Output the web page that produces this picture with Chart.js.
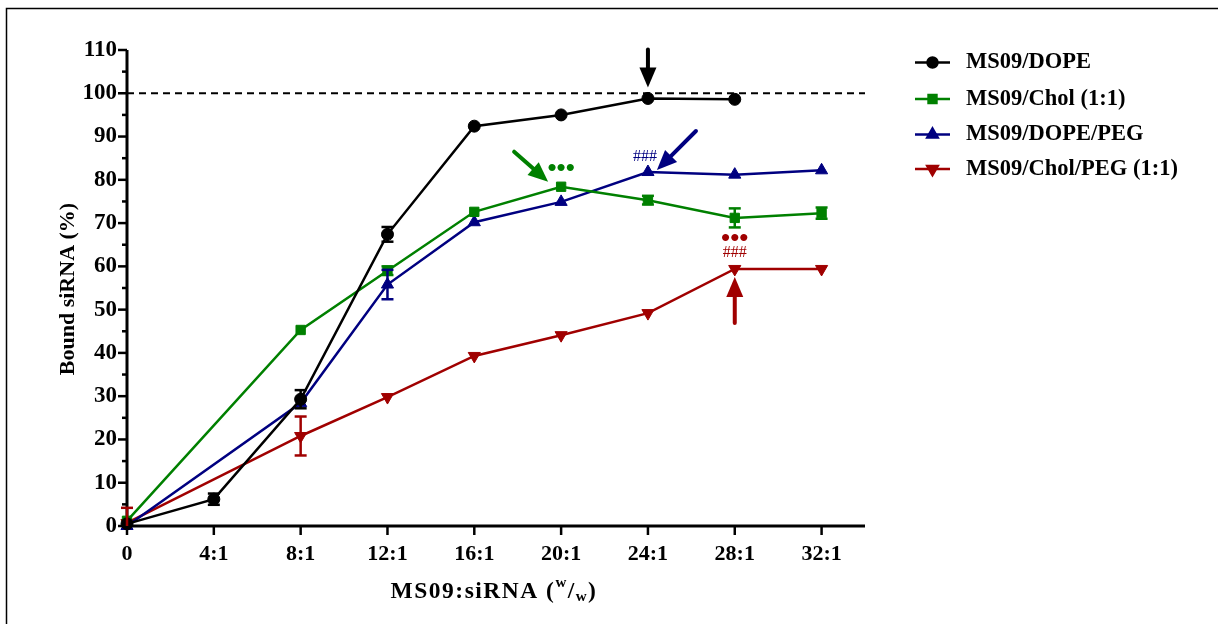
<!DOCTYPE html>
<html><head><meta charset="utf-8">
<script src="https://cdn.jsdelivr.net/npm/chart.js@4/dist/chart.umd.min.js"></script>
<style>html,body{margin:0;padding:0;background:#fff}canvas{display:block}</style>
</head><body><canvas id="c" width="1218" height="624"></canvas>
<script>
// ---- data ----
const ratios = [0, 4, 8, 12, 16, 20, 24, 28, 32];
const ratioLabels = ['0', '4:1', '8:1', '12:1', '16:1', '20:1', '24:1', '28:1', '32:1'];
const yTicks = [0, 10, 20, 30, 40, 50, 60, 70, 80, 90, 100, 110];
const seriesNames = ['MS09/DOPE', 'MS09/Chol (1:1)', 'MS09/DOPE/PEG', 'MS09/Chol/PEG (1:1)'];
const dope       = [0.5, 6.2, 29.3, 67.4, 92.4, 95.0, 98.8, 98.6, null];
const dopeErr    = [0, 1.3, 2.1, 1.7, 0, 0, 0, 0, null];
const chol       = [1.2, null, 45.3, 59.0, 72.6, 78.4, 75.3, 71.2, 72.3];
const cholErr    = [0, null, 0, 1.0, 0, 0, 1.0, 2.2, 1.3];
const dopePeg    = [0, null, 28.4, 55.8, 70.2, 74.9, 81.8, 81.2, 82.2];
const dopePegErr = [0, null, 0, 3.4, 0, 0, 0, 0, 0];
const cholPeg    = [0.7, null, 20.8, 29.8, 39.3, 44.1, 49.2, 59.4, 59.4];
const cholPegErr = [3.5, null, 4.5, 0, 0, 0, 0, 0, 0];
const referenceLevel = 100;

const colors = ['#000000', '#008000', '#000080', '#a00000'];
const styles = ['circle', 'rect', 'triangle', 'triangle'];
const rotations = [0, 0, 0, 180];
const radii = [6, 6.6, 7, 7];
const values = [dope, chol, dopePeg, cholPeg];
const errors = [dopeErr, cholErr, dopePegErr, cholPegErr];

const FONT = 'Liberation Serif, Times New Roman, serif';

function pts(arr) {
  const out = [];
  arr.forEach((v, i) => { if (v !== null) out.push({x: ratios[i], y: v}); });
  return out;
}

const datasets = values.map((arr, s) => ({
  label: seriesNames[s],
  data: pts(arr),
  borderColor: colors[s],
  backgroundColor: colors[s],
  pointBackgroundColor: colors[s],
  pointBorderColor: colors[s],
  pointStyle: styles[s],
  rotation: rotations[s],
  pointRadius: radii[s],
  pointHoverRadius: radii[s],
  pointBorderWidth: 1,
  borderWidth: 2.5,
  tension: 0,
  spanGaps: true,
  clip: false
}));

function px(chart, s, i) {
  return {x: chart.scales.x.getPixelForValue(ratios[i]), y: chart.scales.y.getPixelForValue(values[s][i])};
}

function arrow(ctx, x1, y1, x2, y2, color) {
  const ang = Math.atan2(y2 - y1, x2 - x1);
  const hl = 20, hw = 8.5;
  const bx = x2 - hl * Math.cos(ang), by = y2 - hl * Math.sin(ang);
  ctx.save();
  ctx.strokeStyle = color; ctx.fillStyle = color;
  ctx.lineWidth = 4; ctx.lineCap = 'round';
  ctx.beginPath(); ctx.moveTo(x1, y1); ctx.lineTo(bx + 2 * Math.cos(ang), by + 2 * Math.sin(ang)); ctx.stroke();
  ctx.beginPath();
  ctx.moveTo(x2, y2);
  ctx.lineTo(bx + hw * Math.sin(ang), by - hw * Math.cos(ang));
  ctx.lineTo(bx - hw * Math.sin(ang), by + hw * Math.cos(ang));
  ctx.closePath(); ctx.fill();
  ctx.restore();
}

const deco = {
  id: 'deco',
  beforeDraw(chart) {
    const ctx = chart.ctx;
    ctx.save();
    ctx.fillStyle = '#fff'; ctx.fillRect(0, 0, chart.width, chart.height);
    ctx.strokeStyle = '#000'; ctx.lineWidth = 1.5;
    ctx.beginPath(); ctx.moveTo(6.5, 624); ctx.lineTo(6.5, 8.5); ctx.lineTo(1218, 8.5); ctx.stroke();
    ctx.restore();
  },
  beforeDatasetsDraw(chart) {
    const ctx = chart.ctx, xs = chart.scales.x, ys = chart.scales.y, a = chart.chartArea;
    ctx.save();
    ctx.strokeStyle = '#000';
    // reference dashed line
    ctx.lineWidth = 2; ctx.setLineDash([7, 5]);
    const ry = ys.getPixelForValue(referenceLevel);
    ctx.beginPath(); ctx.moveTo(a.left, ry); ctx.lineTo(a.right, ry); ctx.stroke();
    ctx.setLineDash([]);
    // axes
    ctx.lineWidth = 3;
    ctx.beginPath(); ctx.moveTo(a.left, a.top); ctx.lineTo(a.left, a.bottom + 4); ctx.stroke();
    ctx.beginPath(); ctx.moveTo(a.left - 4, a.bottom); ctx.lineTo(a.right, a.bottom); ctx.stroke();
    // y ticks major/minor
    ctx.lineWidth = 2.5;
    for (let v = 0; v <= 110; v += 5) {
      const y = ys.getPixelForValue(v);
      const len = (v % 10 === 0) ? 9 : 5;
      ctx.beginPath(); ctx.moveTo(a.left, y); ctx.lineTo(a.left - len, y); ctx.stroke();
    }
    ratios.forEach(r => {
      const x = xs.getPixelForValue(r);
      ctx.beginPath(); ctx.moveTo(x, a.bottom); ctx.lineTo(x, a.bottom + 9); ctx.stroke();
    });
    ctx.restore();
  },
  afterDatasetsDraw(chart) {
    const ctx = chart.ctx, xs = chart.scales.x, ys = chart.scales.y;
    ctx.save();
    // error bars
    errors.forEach((errs, s) => {
      ctx.strokeStyle = colors[s]; ctx.lineWidth = 2.5;
      errs.forEach((e, i) => {
        if (!e || values[s][i] === null) return;
        const x = xs.getPixelForValue(ratios[i]);
        const yt = ys.getPixelForValue(values[s][i] + e);
        const yb = ys.getPixelForValue(Math.max(0, values[s][i] - e));
        ctx.beginPath(); ctx.moveTo(x, yt); ctx.lineTo(x, yb); ctx.stroke();
        ctx.beginPath(); ctx.moveTo(x - 6, yt); ctx.lineTo(x + 6, yt); ctx.stroke();
        if (values[s][i] - e > 0) { ctx.beginPath(); ctx.moveTo(x - 6, yb); ctx.lineTo(x + 6, yb); ctx.stroke(); }
      });
    });
    // arrows
    let p = px(chart, 0, 6); arrow(ctx, p.x, p.y - 49, p.x, p.y - 11, colors[0]);
    p = px(chart, 1, 5); arrow(ctx, p.x - 47, p.y - 35, p.x - 13, p.y - 5, colors[1]);
    p = px(chart, 2, 6); arrow(ctx, p.x + 48, p.y - 41, p.x + 9, p.y - 2, colors[2]);
    p = px(chart, 3, 7); arrow(ctx, p.x, p.y + 54, p.x, p.y + 8, colors[3]);
    // significance marks
    ctx.textAlign = 'center'; ctx.textBaseline = 'middle';
    ctx.font = 'bold 26px ' + FONT;
    p = px(chart, 1, 5); ctx.fillStyle = colors[1]; ctx.fillText('•••', p.x, p.y - 17);
    p = px(chart, 3, 7); ctx.fillStyle = colors[3]; ctx.fillText('•••', p.x, p.y - 30);
    ctx.font = '16px ' + FONT;
    ctx.fillText('###', p.x, p.y - 16);
    p = px(chart, 2, 6); ctx.fillStyle = colors[2]; ctx.fillText('###', p.x - 3, p.y - 15);
    // legend
    const rowsY = [62.5, 99, 134.5, 169];
    seriesNames.forEach((n, s) => {
      const y = rowsY[s];
      ctx.strokeStyle = colors[s]; ctx.lineWidth = 2.5;
      ctx.beginPath(); ctx.moveTo(915, y); ctx.lineTo(950, y); ctx.stroke();
      ctx.fillStyle = colors[s];
      Chart.helpers.drawPoint(ctx, {pointStyle: styles[s], rotation: rotations[s], borderWidth: 1, radius: radii[s] - 1}, 932.5, y);
      ctx.fillStyle = '#000'; ctx.textAlign = 'left'; ctx.textBaseline = 'middle';
      ctx.font = 'bold 22.5px ' + FONT;
      ctx.fillText(n, 966, y);
    });
    // y title
    ctx.save();
    ctx.translate(68, 289); ctx.rotate(-Math.PI / 2);
    ctx.textAlign = 'center'; ctx.textBaseline = 'middle';
    ctx.font = 'bold 22px ' + FONT; ctx.fillStyle = '#000';
    ctx.fillText('Bound siRNA (%)', 0, 0);
    ctx.restore();
    // x title with super/subscript
    ctx.save();
    ctx.letterSpacing = '1.5px';
    const parts = [['MS09:siRNA (', 23.5, 0], ['w', 15, -11], ['/', 23.5, 0], ['w', 15, 3], [')', 23.5, 0]];
    let total = 0;
    parts.forEach(pt => { ctx.font = 'bold ' + pt[1] + 'px ' + FONT; total += ctx.measureText(pt[0]).width; });
    let x = 494 - total / 2;
    ctx.textAlign = 'left'; ctx.textBaseline = 'alphabetic'; ctx.fillStyle = '#000';
    parts.forEach(pt => {
      ctx.font = 'bold ' + pt[1] + 'px ' + FONT;
      ctx.fillText(pt[0], x, 598 + pt[2]);
      x += ctx.measureText(pt[0]).width;
    });
    ctx.restore();
    ctx.restore();
  }
};

new Chart(document.getElementById('c'), {
  type: 'line',
  data: {datasets},
  options: {
    responsive: false,
    animation: false,
    devicePixelRatio: 1,
    layout: {padding: {top: 50, right: 353, left: 0, bottom: 0}},
    plugins: {legend: {display: false}, tooltip: {enabled: false}},
    scales: {
      x: {
        type: 'linear', min: 0, max: 34,
        afterBuildTicks(s) { s.ticks = ratios.map(v => ({value: v})); },
        afterFit(s) { s.height = 98; },
        grid: {display: false, drawTicks: false},
        border: {display: false},
        ticks: {
          autoSkip: false, maxRotation: 0, padding: 15, color: '#000',
          font: {family: FONT, size: 22, weight: 'bold'},
          callback: (v) => ratioLabels[ratios.indexOf(v)]
        }
      },
      y: {
        min: 0, max: 110,
        afterBuildTicks(s) { s.ticks = yTicks.map(v => ({value: v})); },
        afterFit(s) { s.width = 127; },
        grid: {display: false, drawTicks: false},
        border: {display: false},
        ticks: {padding: 10, color: '#000', font: {family: FONT, size: 23, weight: 'bold'}}
      }
    }
  },
  plugins: [deco]
});
</script>
</body></html>
